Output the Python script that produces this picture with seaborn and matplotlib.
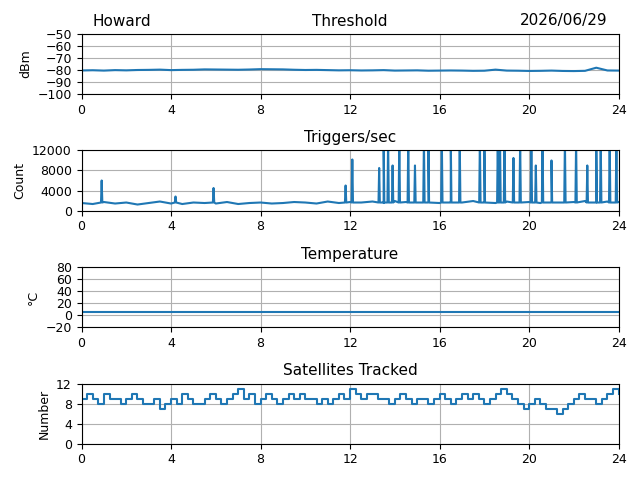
import numpy as np
import pandas as pd
import matplotlib
matplotlib.use("Agg")
import matplotlib.pyplot as plt
import seaborn as sns

# hours sampled every 0.5 h for the slow series
hours_half = [i * 0.5 for i in range(49)]
threshold = [-80.5, -80.3, -80.6, -80.2, -80.4, -80.1, -80.0, -79.8, -80.2, -80.0,
             -79.9, -79.6, -79.7, -79.8, -79.9, -79.7, -79.4, -79.5, -79.6, -79.9,
             -80.1, -80.0, -80.2, -80.4, -80.3, -80.5, -80.4, -80.2, -80.6, -80.5,
             -80.4, -80.7, -80.6, -80.5, -80.6, -80.8, -80.7, -79.8, -80.6, -80.7,
             -80.9, -80.8, -80.6, -80.9, -81.0, -80.8, -78.2, -80.5, -80.6]
temperature = [5.5] * 49

# triggers: baseline at 0.5 h plus narrow spikes
trig_base = [1500, 1300, 1700, 1400, 1600, 1200, 1500, 1800, 1400, 1300,
             1600, 1500, 1400, 1700, 1300, 1500, 1600, 1400, 1500, 1700,
             1600, 1400, 1800, 1500, 1700, 1600, 1800, 1500, 1900, 1700,
             1600, 1800, 1500, 1700, 1600, 1900, 1700, 1500, 1800, 1600,
             1700, 1500, 1800, 1600, 1700, 1900, 1600, 1800, 1700]
spike_hours = [0.9, 4.2, 5.9, 11.8, 12.1, 13.3, 13.5, 13.7, 13.9, 14.2, 14.6, 14.9,
               15.3, 15.5, 16.1, 16.5, 16.9, 17.8, 18.0, 18.6, 18.7, 18.9, 19.3,
               19.6, 20.1, 20.3, 20.6, 21.0, 21.6, 22.1, 22.6, 23.0, 23.2, 23.6, 23.9]
spike_counts = [6000, 2800, 4500, 5000, 10200, 8500, 14000, 14000, 9000, 14000, 14000,
                9000, 14000, 14000, 14000, 14000, 14000, 14000, 14000, 14000, 14000,
                14000, 10500, 14000, 14000, 9000, 14000, 10000, 14000, 14000, 9000,
                14000, 14000, 14000, 14000]
spike_foot = 1600  # level each spike rises from

# satellites every 0.25 h
hours_q = [i * 0.25 for i in range(97)]
satellites = [9, 10, 9, 8, 10, 9, 9, 8, 9, 10, 9, 8, 8, 9, 7, 8,
              9, 8, 10, 9, 8, 8, 9, 10, 9, 8, 9, 10, 11, 9, 10, 8,
              9, 10, 9, 8, 9, 10, 9, 10, 9, 9, 8, 9, 8, 9, 10, 9,
              11, 10, 9, 10, 10, 9, 9, 8, 9, 10, 9, 8, 9, 9, 8, 9,
              10, 9, 8, 9, 10, 9, 10, 9, 8, 9, 10, 11, 10, 9, 8, 7,
              8, 9, 8, 7, 7, 6, 7, 8, 9, 10, 9, 9, 8, 9, 10, 11, 10]

sx, sy = [], []
for h, c in zip(spike_hours, spike_counts):
    sx += [h - 0.03, h, h + 0.03]
    sy += [spike_foot, c, spike_foot]
trig = pd.DataFrame({"hour": hours_half + sx,
                     "count": trig_base + sy}).sort_values("hour", kind="stable")

plt.rcParams.update({"font.size": 9, "axes.titlesize": 11})
color = "#1f77b4"
fig, axes = plt.subplots(4, 1, figsize=(6.4, 4.8))

panels = [
    (hours_half, threshold, "Threshold", "dBm", (-100, -50), [-100, -90, -80, -70, -60, -50]),
    (trig["hour"], trig["count"], "Triggers/sec", "Count", (0, 12000), [0, 4000, 8000, 12000]),
    (hours_half, temperature, "Temperature", "°C", (-20, 80), [-20, 0, 20, 40, 60, 80]),
    (hours_q, satellites, "Satellites Tracked", "Number", (0, 12), [0, 4, 8, 12]),
]
for ax, (x, y, title, ylabel, ylim, yticks) in zip(axes, panels):
    ax.plot(list(x), list(y), color=color, linewidth=1.5,
            drawstyle="steps-post" if title.startswith("Sat") else "default")
    ax.set_title(title)
    ax.set_ylabel(ylabel)
    ax.set_xlim(0, 24)
    ax.set_ylim(*ylim)
    ax.set_yticks(yticks)
    ax.set_xticks(range(0, 25, 4))
    ax.grid(True)

axes[0].set_title("Howard", loc="left", x=0.02)
axes[0].set_title("2026/06/29", loc="right", x=0.98)

plt.tight_layout()
plt.savefig("out.png", dpi=100)
